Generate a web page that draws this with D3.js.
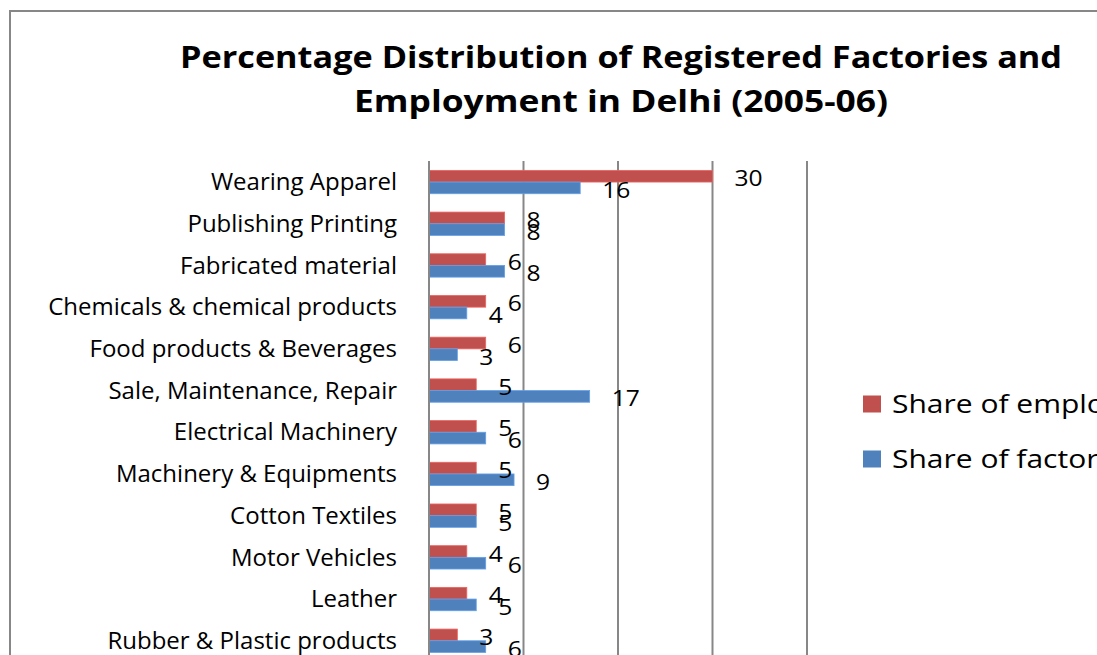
<!DOCTYPE html>
<html>
<head>
<meta charset="utf-8">
<script src="https://cdn.jsdelivr.net/npm/d3@7"></script>
<style>
  html, body { margin: 0; padding: 0; background: #fff; overflow: hidden; }
  svg { display: block; font-family: "Open Sans", sans-serif; }
</style>
</head>
<body>
<svg id="chart" width="1097" height="655"></svg>
<script>
// Industry groups, top to bottom
const categories = [
  "Wearing Apparel",
  "Publishing Printing",
  "Fabricated material",
  "Chemicals & chemical products",
  "Food products & Beverages",
  "Sale, Maintenance, Repair",
  "Electrical Machinery",
  "Machinery & Equipments",
  "Cotton Textiles",
  "Motor Vehicles",
  "Leather",
  "Rubber & Plastic products"
];
// Percentage shares per industry
const employmentShare = [30, 8, 6, 6, 6, 5, 5, 5, 5, 4, 4, 3];
const factoryShare    = [16, 8, 8, 4, 3, 17, 6, 9, 5, 6, 5, 6];
const seriesNames = ["Share of employment", "Share of factories"];
const xTicks = [0, 10, 20, 30, 40];
const titleLines = [
  "Percentage Distribution of Registered Factories and",
  "Employment in Delhi (2005-06)"
];

const colors = ["#C0504D", "#4F81BD"];
const series = [employmentShare, factoryShare];

const svg = d3.select("#chart");

// outer chart border
svg.append("rect")
  .attr("x", 10).attr("y", 11)
  .attr("width", 1200).attr("height", 800)
  .attr("fill", "#fff")
  .attr("stroke", "#878787").attr("stroke-width", 2);

// title, widened to the chart's title box
const titleWidths = [882, 534];
svg.append("g").selectAll("text").data(titleLines).join("text")
  .attr("x", 621)
  .attr("y", (d, i) => 68 + i * 44)
  .attr("text-anchor", "middle")
  .attr("font-size", 30)
  .attr("font-weight", "bold")
  .attr("fill", "#000")
  .attr("textLength", (d, i) => titleWidths[i])
  .attr("lengthAdjust", "spacingAndGlyphs")
  .text(d => d);

const x = d3.scaleLinear().domain([0, 40]).range([429, 807]);
const y = d3.scaleBand().domain(categories).range([161.2, 161.2 + 41.7 * categories.length])
  .paddingInner(0.44).paddingOuter(0.22);
const ySub = d3.scaleBand().domain([0, 1]).range([0, y.bandwidth()]);
const plotTop = 161, plotBottom = 700;

// vertical gridlines
svg.append("g").selectAll("line").data(xTicks.slice(1)).join("line")
  .attr("x1", d => x(d)).attr("x2", d => x(d))
  .attr("y1", plotTop).attr("y2", plotBottom)
  .attr("stroke", "#878787").attr("stroke-width", 2);

// bars
const groups = svg.append("g").selectAll("g").data(categories).join("g")
  .attr("transform", c => `translate(0,${y(c)})`);

const cells = (c, i) => series.map((s, k) => ({ k, v: s[i] }));

groups.selectAll("rect")
  .data(cells)
  .join("rect")
  .attr("x", x(0))
  .attr("y", d => ySub(d.k))
  .attr("width", d => x(d.v) - x(0))
  .attr("height", ySub.bandwidth())
  .attr("fill", d => colors[d.k])
  .attr("stroke", d => d3.color(colors[d.k]).brighter(0.6))
  .attr("stroke-width", 0.8);

// value labels (slightly widened glyphs)
groups.selectAll("text")
  .data(cells)
  .join("text")
  .attr("transform", d => `translate(${x(d.v) + 22},${ySub(d.k) + ySub.bandwidth() / 2 + 10}) scale(1.12,1)`)
  .attr("font-size", 22)
  .attr("fill", "#000")
  .text(d => d.v);

// category axis
const yAxis = d3.axisLeft(y).tickSize(0).tickPadding(32);
const yg = svg.append("g").attr("transform", `translate(${x(0)},0)`).call(yAxis);
yg.select(".domain").remove();
yg.selectAll("text")
  .attr("font-size", 24)
  .attr("font-family", "Open Sans, sans-serif")
  .attr("fill", "#000")
  .attr("dy", "0.34em");
svg.append("line")
  .attr("x1", x(0)).attr("x2", x(0))
  .attr("y1", plotTop).attr("y2", plotBottom)
  .attr("stroke", "#878787").attr("stroke-width", 2);

// legend
const legend = svg.append("g").selectAll("g").data(seriesNames).join("g")
  .attr("transform", (d, i) => `translate(863,${404 + i * 55})`);
legend.append("rect")
  .attr("x", 0).attr("y", -8.5).attr("width", 18).attr("height", 17)
  .attr("fill", (d, i) => colors[i]);
legend.append("text")
  .attr("transform", "translate(29,9) scale(1.2,1)")
  .attr("font-size", 25)
  .attr("fill", "#000")
  .text(d => d);
</script>
</body>
</html>
